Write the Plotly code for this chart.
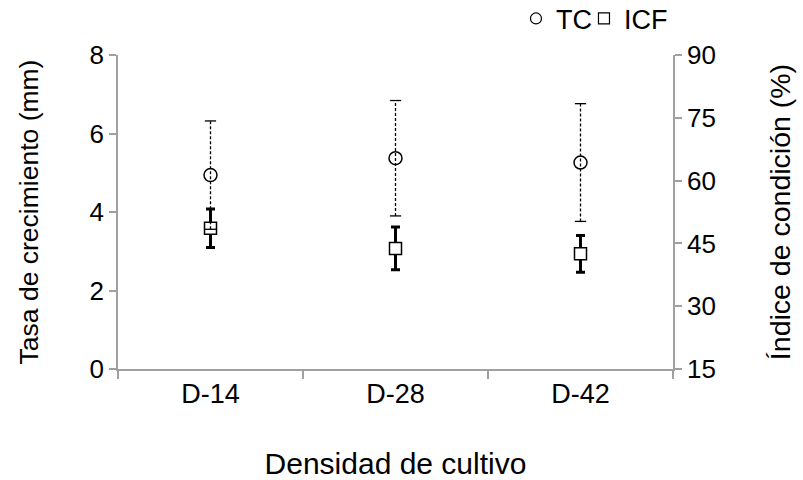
import plotly.graph_objects as go

categories = ["D-14", "D-28", "D-42"]
tc_mean = [4.94, 5.37, 5.26]
tc_err = [1.38, 1.47, 1.50]
icf_mean = [48.6, 43.8, 42.5]
icf_err = [4.6, 5.1, 4.4]
left_ticks = [0, 2, 4, 6, 8]
right_ticks = [15, 30, 45, 60, 75, 90]

FONT = "Liberation Sans, Arial, sans-serif"
AX = "#A0A0A0"

fig = go.Figure()

# ICF (right axis) - drawn first (primary y axis)
fig.add_trace(go.Scatter(
    x=categories, y=icf_mean, name="ICF", mode="markers", yaxis="y",
    marker=dict(symbol="square", size=12, color="white", line=dict(color="black", width=1.5)),
    error_y=dict(type="data", array=icf_err, visible=True, color="black", thickness=3, width=4.5),
    showlegend=False,
))

# TC dashed error lines
xs, ys = [], []
for c, m, e in zip(categories, tc_mean, tc_err):
    xs += [c, c, None]
    ys += [m - e, m + e, None]
fig.add_trace(go.Scatter(
    x=xs, y=ys, mode="lines", yaxis="y2", showlegend=False, hoverinfo="skip",
    line=dict(color="black", width=1.3, dash="3px,2px"),
))
# TC caps
fig.add_trace(go.Scatter(
    x=categories + categories,
    y=[m - e for m, e in zip(tc_mean, tc_err)] + [m + e for m, e in zip(tc_mean, tc_err)],
    mode="markers", yaxis="y2", showlegend=False, hoverinfo="skip",
    marker=dict(symbol="line-ew", size=8, line=dict(color="black", width=1.3)),
))
fig.add_trace(go.Scatter(
    x=categories, y=tc_mean, name="TC", mode="markers", yaxis="y2",
    marker=dict(symbol="circle-open", size=13, color="black", line=dict(width=1.5)),
    showlegend=False,
))

# legend entries
fig.add_trace(go.Scatter(
    x=[None], y=[None], name="TC", mode="markers", yaxis="y2", legend="legend",
    marker=dict(symbol="circle-open", size=11, color="black", line=dict(width=1.2)),
))
fig.add_trace(go.Scatter(
    x=[None], y=[None], name="ICF", mode="markers", yaxis="y2", legend="legend2",
    marker=dict(symbol="square-open", size=11, color="black", line=dict(width=1.2)),
))

leg_common = dict(orientation="h", xanchor="left", y=1.115, yanchor="middle",
                  font=dict(size=27), itemwidth=30, bgcolor="rgba(0,0,0,0)")

fig.update_layout(
    width=803, height=480,
    margin=dict(l=118, r=130, t=55, b=111, autoexpand=False),
    paper_bgcolor="white", plot_bgcolor="white",
    font=dict(family=FONT, size=26, color="black"),
    showlegend=True,
    legend=dict(x=0.7171, **leg_common),
    legend2=dict(x=0.8396, **leg_common),
    xaxis=dict(
        type="category", categoryorder="array", categoryarray=categories,
        range=[-0.5, 2.5], showline=True, linecolor=AX, linewidth=1.5,
        ticks="outside", tickson="boundaries", ticklen=8, tickcolor=AX, tickwidth=1.5,
        showgrid=False, zeroline=False, automargin=False,
        title=dict(text="Densidad de cultivo", standoff=47, font=dict(size=30)),
        tickfont=dict(size=27),
    ),
    yaxis=dict(
        side="right", range=[15, 90], tickvals=right_ticks,
        showline=True, linecolor=AX, linewidth=1.5,
        ticks="outside", ticklen=7, tickcolor=AX, tickwidth=1.5,
        showgrid=False, zeroline=False, tickfont=dict(size=26), automargin=False,
        title=dict(text="Índice de condición (%)", font=dict(size=28.5), standoff=55),
    ),
    yaxis2=dict(
        side="left", overlaying="y", range=[0, 8], tickvals=left_ticks,
        showline=True, linecolor=AX, linewidth=1.5,
        ticks="outside", ticklen=7, tickcolor=AX, tickwidth=1.5,
        showgrid=False, zeroline=False, tickfont=dict(size=26), automargin=False,
        title=dict(text="Tasa de crecimiento (mm)", font=dict(size=26.5), standoff=43),
    ),
)

fig.write_html("out.html", post_script="document.body.style.margin='0';",
               config={"displayModeBar": False})
